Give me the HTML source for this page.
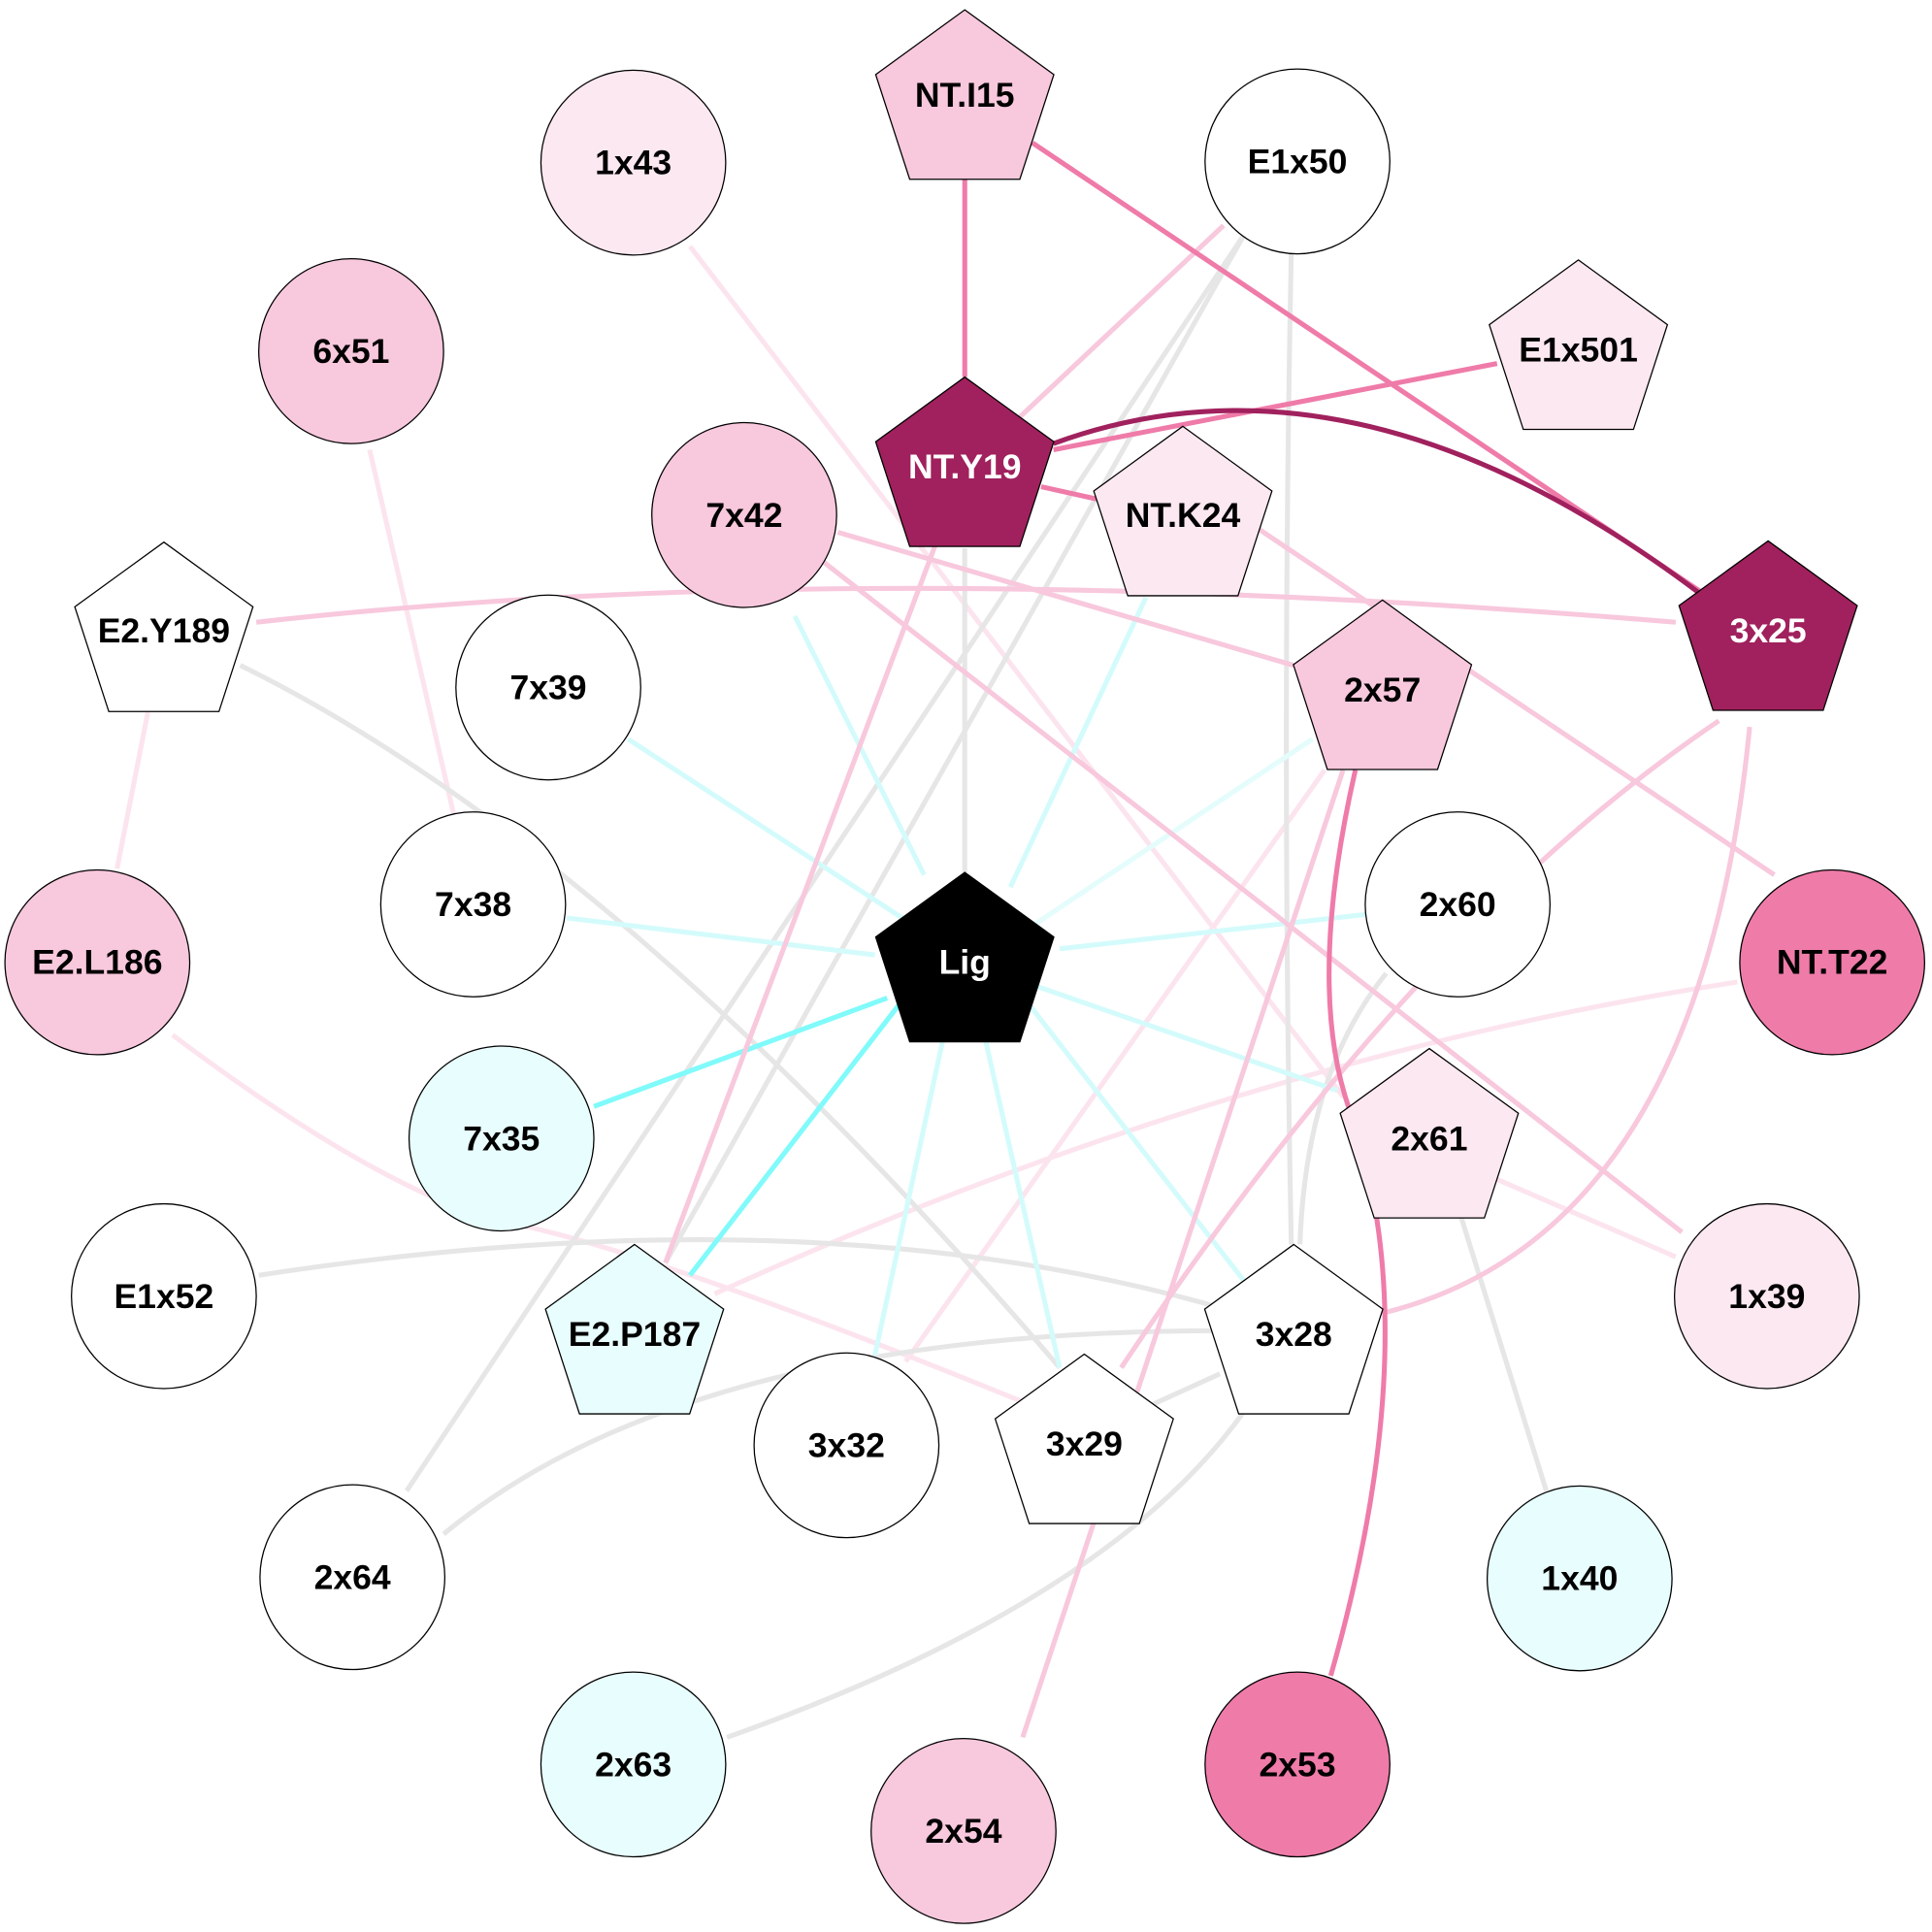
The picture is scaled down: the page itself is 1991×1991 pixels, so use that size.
<!DOCTYPE html>
<html><head><style>html,body{margin:0;padding:0;background:#fff}svg{display:block}</style></head>
<body>
<svg width="1991" height="1991" viewBox="0 0 1568 1568" xmlns="http://www.w3.org/2000/svg">
<defs>
<polygon id="pg" points="0,-76 72.3,-23.5 44.7,61.5 -44.7,61.5 -72.3,-23.5"/>
</defs>
<g fill="none" stroke-width="4">
<path stroke="#fce4ee" d="M560,200 L1090,890"/>
<path stroke="#fce4ee" d="M300,365 L368,660"/>
<path stroke="#fce4ee" d="M120,578 L95,705"/>
<path stroke="#fce4ee" d="M1075,625 L735,1105"/>
<path stroke="#fce4ee" d="M1410,797 Q1000,860 580,1050"/>
<path stroke="#fce4ee" d="M140,840 Q300,960 400,990 Q520,1010 860,1150"/>
<path stroke="#fce4ee" d="M1210,955 L1360,1020"/>
<path stroke="#e6e6e6" d="M783,445 L783,708"/>
<path stroke="#e6e6e6" d="M1010,190 L330,1210"/>
<path stroke="#e6e6e6" d="M1010,190 L540,1025"/>
<path stroke="#e6e6e6" d="M1048,205 Q1040,600 1048,1010"/>
<path stroke="#e6e6e6" d="M195,540 Q500,690 860,1110"/>
<path stroke="#e6e6e6" d="M1125,790 Q1060,870 1055,1010"/>
<path stroke="#e6e6e6" d="M210,1035 Q700,960 1050,1080"/>
<path stroke="#e6e6e6" d="M360,1245 Q560,1080 990,1080"/>
<path stroke="#e6e6e6" d="M590,1410 Q900,1300 1010,1145"/>
<path stroke="#e6e6e6" d="M1185,985 L1255,1210"/>
<path stroke="#e6e6e6" d="M935,1140 L990,1115"/>
<path stroke="#d4fbfb" d="M645,500 L750,710"/>
<path stroke="#d4fbfb" d="M930,485 L820,720"/>
<path stroke="#e4fcfc" d="M1065,600 L840,750"/>
<path stroke="#d4fbfb" d="M510,600 L740,750"/>
<path stroke="#d4fbfb" d="M460,745 L710,775"/>
<path stroke="#d4fbfb" d="M1110,742 L860,770"/>
<path stroke="#d4fbfb" d="M765,845 L710,1100"/>
<path stroke="#d4fbfb" d="M800,845 L860,1110"/>
<path stroke="#d4fbfb" d="M835,815 L1010,1040"/>
<path stroke="#d4fbfb" d="M840,800 L1085,885"/>
<path stroke="#80fafa" d="M720,810 L482,898"/>
<path stroke="#80fafa" d="M730,815 L560,1035"/>
<path stroke="#f8c8dd" d="M760,440 L540,1025"/>
<path stroke="#f8c8dd" d="M993,183 L826,340"/>
<path stroke="#f8c8dd" d="M680,432 L1050,540"/>
<path stroke="#f8c8dd" d="M667,455 L1365,1000"/>
<path stroke="#f8c8dd" d="M1015,425 L1440,710"/>
<path stroke="#f8c8dd" d="M208,505 Q700,450 1360,505"/>
<path stroke="#f8c8dd" d="M1395,585 Q1150,750 910,1110"/>
<path stroke="#f8c8dd" d="M1420,590 Q1380,1000 1125,1065"/>
<path stroke="#f8c8dd" d="M1090,625 L830,1410"/>
<path stroke="#ef7ba9" d="M783,140 L783,306"/>
<path stroke="#ef7ba9" d="M838,116 L1380,480"/>
<path stroke="#ef7ba9" d="M855,365 L1215,295"/>
<path stroke="#ef7ba9" d="M845,395 L890,405"/>
<path stroke="#ef7ba9" d="M1100,625 Q1060,800 1095,900 Q1160,1080 1080,1360"/>
<path stroke="#a0215d" d="M855,360 Q1100,270 1380,482"/>
</g>
<g stroke="#000" stroke-width="1">
<circle cx="514" cy="132" r="75" fill="#fce8f1"/>
<circle cx="1053" cy="131" r="75" fill="#fff"/>
<circle cx="285" cy="285" r="75" fill="#f8c8dd"/>
<circle cx="604" cy="418" r="75" fill="#f8c8dd"/>
<circle cx="445" cy="558" r="75" fill="#fff"/>
<circle cx="384" cy="734" r="75" fill="#fff"/>
<circle cx="1183" cy="734" r="75" fill="#fff"/>
<circle cx="79" cy="781" r="75" fill="#f8c8dd"/>
<circle cx="1487" cy="781" r="75" fill="#ef7ba9"/>
<circle cx="407" cy="924" r="75" fill="#e8fdfd"/>
<circle cx="133" cy="1052" r="75" fill="#fff"/>
<circle cx="1434" cy="1052" r="75" fill="#fce8f1"/>
<circle cx="687" cy="1173" r="75" fill="#fff"/>
<circle cx="286" cy="1280" r="75" fill="#fff"/>
<circle cx="1282" cy="1281" r="75" fill="#e8fdfd"/>
<circle cx="514" cy="1432" r="75" fill="#e8fdfd"/>
<circle cx="782" cy="1486" r="75" fill="#f8c8dd"/>
<circle cx="1053" cy="1432" r="75" fill="#ef7ba9"/>
<use href="#pg" x="783" y="84" fill="#f8c8dd"/>
<use href="#pg" x="1281" y="287" fill="#fce8f1"/>
<use href="#pg" x="783" y="382" fill="#a0215d"/>
<use href="#pg" x="960" y="422" fill="#fce8f1"/>
<use href="#pg" x="133" y="516" fill="#fff"/>
<use href="#pg" x="1435" y="515" fill="#a0215d"/>
<use href="#pg" x="1122" y="563" fill="#f8c8dd"/>
<use href="#pg" x="783" y="784" fill="#000"/>
<use href="#pg" x="1160" y="927" fill="#fce8f1"/>
<use href="#pg" x="515" y="1086" fill="#e8fdfd"/>
<use href="#pg" x="1050" y="1086" fill="#fff"/>
<use href="#pg" x="880" y="1175" fill="#fff"/>
</g>
<g font-family="Liberation Sans, Arial, sans-serif" font-weight="bold" font-size="28" text-anchor="middle" dominant-baseline="central" fill="#000">
<text x="783" y="77">NT.I15</text>
<text x="514" y="132">1x43</text>
<text x="1053" y="131">E1x50</text>
<text x="285" y="285">6x51</text>
<text x="1281" y="284">E1x501</text>
<text x="783" y="379" fill="#fff">NT.Y19</text>
<text x="604" y="418">7x42</text>
<text x="960" y="418">NT.K24</text>
<text x="133" y="512">E2.Y189</text>
<text x="1435" y="512" fill="#fff">3x25</text>
<text x="445" y="558">7x39</text>
<text x="1122" y="560">2x57</text>
<text x="384" y="734">7x38</text>
<text x="1183" y="734">2x60</text>
<text x="79" y="781">E2.L186</text>
<text x="1487" y="781">NT.T22</text>
<text x="783" y="781" fill="#fff">Lig</text>
<text x="407" y="924">7x35</text>
<text x="1160" y="924">2x61</text>
<text x="133" y="1052">E1x52</text>
<text x="515" y="1083">E2.P187</text>
<text x="1434" y="1052">1x39</text>
<text x="1050" y="1083">3x28</text>
<text x="687" y="1173">3x32</text>
<text x="880" y="1172">3x29</text>
<text x="286" y="1280">2x64</text>
<text x="1282" y="1281">1x40</text>
<text x="514" y="1432">2x63</text>
<text x="782" y="1486">2x54</text>
<text x="1053" y="1432">2x53</text>
</g>
</svg>
</body></html>
